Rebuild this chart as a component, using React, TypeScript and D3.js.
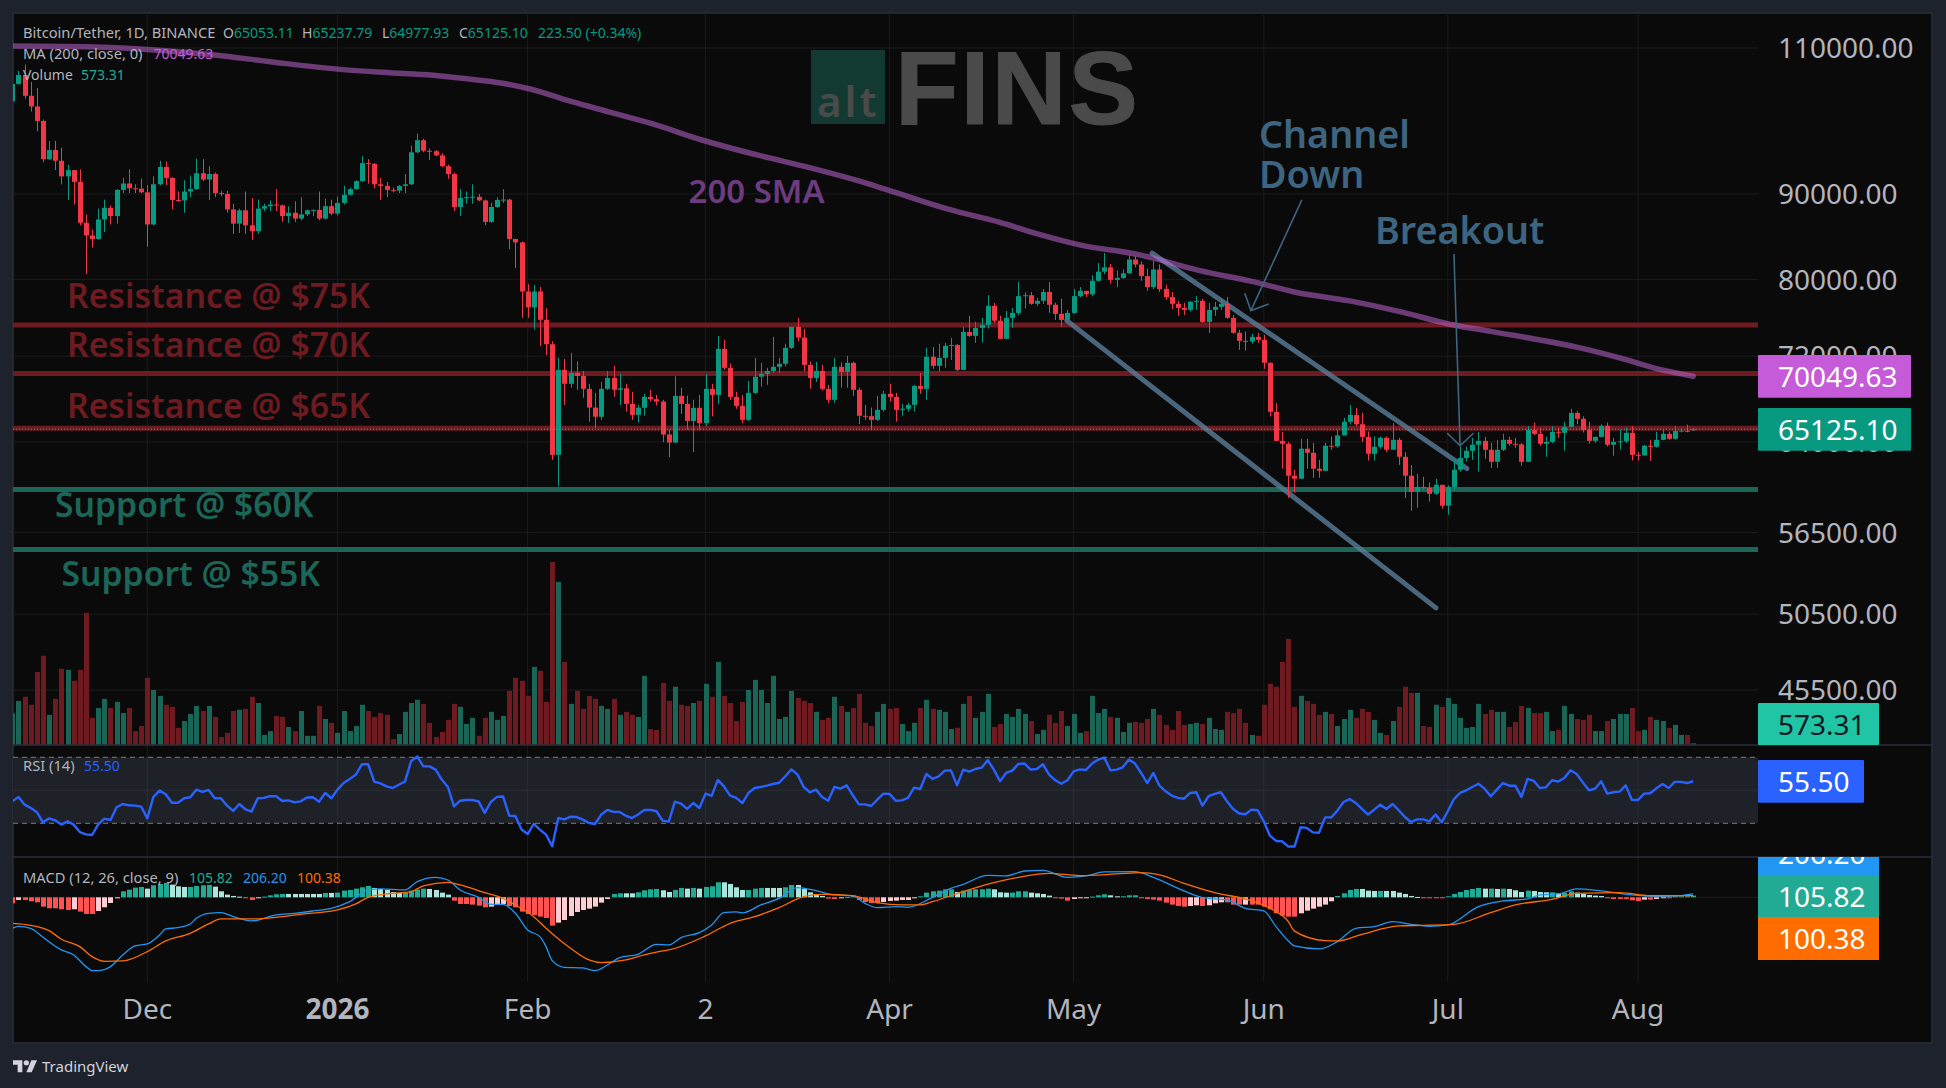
import React from "react";
import * as d3 from "d3";

const firstDay = Date.UTC(2025, 10, 9);
const lastDay = Date.UTC(2026, 7, 10);
const DAY = 86400000;

const firstOpen = 102200;
const lastOpen = 65053.11;

const closes = [
104700,106000,103000,101500,99500,94400,95600,94200,92200,93000,
91500,86500,85000,84600,86900,88300,87300,90500,91300,90700,
90650,90200,86300,91200,93400,92000,89260,89200,90300,90600,
92600,91800,92500,90100,90000,88100,86400,88000,86200,85500,
88200,88500,88700,88600,87300,87700,87000,87500,88000,88050,
87000,88500,87600,88900,89900,90600,91600,93900,93800,91200,
91000,90500,90400,91000,91200,95300,96900,95500,95450,94900,
93500,92500,88400,89500,89600,89650,89200,86600,88400,89260,
89300,84600,84200,78700,77000,78700,75700,73200,62870,70660,
69320,70370,70070,68840,67090,66250,68840,69880,68750,68890,
67430,66420,67070,68080,67870,67650,64650,63940,68180,67430,
65870,67070,65670,68840,68270,72730,70860,68080,67250,65970,
68460,70000,70270,70560,70960,71250,72830,74970,73870,71150,
69880,70560,68840,67810,70960,70460,71350,68750,66340,66300,
65970,66880,68370,68080,66880,66980,67340,69120,68840,71940,
71050,71840,73040,73130,70660,74450,74040,74860,75170,77170,
75600,73740,75900,76420,78200,78300,77380,77700,78650,77280,
76320,75690,76420,78200,78770,78400,79870,80880,81360,79970,
80180,80690,82240,81680,80380,79180,81120,78970,78100,77380,
76950,76740,77590,77700,75480,76740,77060,77380,75900,74360,
73540,73480,73940,73640,71350,66700,64090,63830,61090,60840,
63400,63050,61680,61500,63660,63600,64570,65790,66420,65570,
64440,62960,63570,64360,63310,64180,62700,61090,59750,60160,
60080,59590,60330,58620,60160,61590,62600,63220,63750,64090,
63310,62270,63310,64180,63830,63780,62270,65070,64710,63830,
64000,64890,64800,65340,66600,66060,65070,64090,64440,65430,
63750,64000,64050,64800,62870,62820,63660,63570,64180,64710,
64270,64980,65000,64900,65125.1,
];

const highs = [
104700,106600,107500,105000,104100,99700,96800,96800,95900,93700,
93000,93100,87500,85700,88200,89300,88600,90600,92000,93100,
91200,91900,91100,92200,94200,94100,92100,90300,91700,92300,
94500,94400,93500,92700,90400,90400,88800,88200,90300,89500,
89300,88800,89200,90600,88700,88500,89100,89600,88100,88100,
90300,89400,89300,89700,91000,90800,91700,94800,94400,93900,
92000,91500,90800,91100,92500,96200,97800,97100,95800,95600,
95200,93700,92700,90600,90300,91200,90000,89300,88900,89600,
90600,89400,84600,84300,79500,79400,79200,76900,73500,71850,
71750,72340,71500,70560,69320,68460,69500,70560,71050,70260,
69320,68560,67340,68370,68750,68270,67810,65070,70050,68950,
68200,67810,68270,70260,69320,74040,73640,71300,68560,68270,
69600,71840,71350,70860,73940,71840,73240,74970,75900,74760,
71480,71440,71150,69220,71840,71400,72040,71480,68950,67340,
67100,68190,68650,69320,68460,67430,67550,69220,70370,72830,
72930,73240,73340,73840,73200,74970,76110,75500,75900,78300,
77490,76110,76630,76950,79730,78600,78650,78000,78970,79730,
77500,77920,76740,78970,79180,78770,80470,81840,82980,81740,
81020,81120,82740,82640,82040,81220,82100,81700,79450,78650,
77700,77490,77700,78200,77920,77480,77600,78000,78100,76210,
74660,74490,74250,74340,74140,71400,67510,64890,64000,61590,
64270,64270,63920,62440,63920,64480,65070,66150,67340,67070,
66620,64920,64480,64480,64480,65670,64360,63100,62000,61250,
61000,60540,60840,60330,60300,62440,63600,63600,64360,64890,
64470,63920,64180,64710,64470,64360,63900,65400,65730,65250,
64470,65400,65250,65800,66980,66800,66290,65800,64480,65570,
65730,64360,65070,65250,65400,63100,63750,64180,64900,65070,
64920,65400,65250,65540,65237.79,
];

const lows = [
102200,104600,102600,100800,98100,94000,94300,93000,91200,89260,
88700,86200,80600,83600,84500,85400,86300,86400,90100,90100,
90100,90100,83700,86200,91100,91100,88100,89000,87700,89600,
90500,91600,89260,89600,89700,87700,85200,85300,85200,84500,
85200,87900,87900,87900,86600,86500,86600,86800,87300,87300,
86800,86900,87400,87400,88700,89800,90500,91500,91300,90700,
89260,89600,90200,90100,90100,91100,95200,95300,94300,94800,
93400,91900,87900,87300,88800,88800,89100,86200,86500,88300,
88900,83400,81300,75900,75900,74700,73000,72100,62440,60200,
67340,68960,68750,68000,65800,65250,65970,68750,68100,67340,
66720,65970,65730,66340,67650,67280,63970,62670,63900,66510,
65070,63100,65070,65400,66290,67430,70660,67810,66980,65670,
65870,68360,69050,69220,70370,70370,71000,72730,73500,70560,
68840,69520,68680,67510,67550,68960,68950,68190,65570,65970,
65070,65870,66720,67650,65800,66340,66720,66720,68370,67810,
70760,70500,70860,71640,70560,70660,73940,73340,73370,74810,
75370,73740,73740,74870,76210,76900,77280,77170,77380,76420,
75690,74970,75500,76320,78100,78130,78200,79770,80610,79570,
79180,80070,80590,81360,79870,78770,78970,78650,77800,76840,
76110,76210,76560,76740,75370,74340,76110,76740,75800,74250,
72630,72560,73240,73340,70760,66290,64090,61690,59260,59680,
60800,61690,60920,60920,61500,63310,63480,64570,65570,65400,
64000,62380,62380,63400,63100,63310,62000,59260,58220,58460,
59950,58960,59510,58380,57900,59870,61430,62300,62440,61430,
62530,61760,61760,63200,63660,63480,61930,62270,64600,63660,
62700,63900,64360,63230,65300,65570,64830,63830,63920,64400,
63600,62790,63310,63900,62380,62380,62800,62350,63500,64150,
64200,64180,64850,64850,64977.93,
];

const volumes = [
10.7,14.9,16.3,13.6,24.7,30.2,10.2,15.6,25.8,25.4,
21.7,25.4,44.7,9.2,12.5,15.6,12.5,14.6,10.8,12.5,
4.7,6.4,22.7,18.6,16.6,13.6,12.9,5.8,8.1,10.5,
13.2,11.5,13.2,9.5,2.7,4.1,11.5,11.9,12.2,16.3,
14.2,3.4,4.7,9.8,9.5,6.1,4.7,11.5,3.1,3.1,
13.2,8.8,7.5,4.1,11.5,4.7,6.4,13.6,11.5,9.5,
10.8,10.2,2.0,3.7,11.2,14.2,15.3,13.9,7.5,2.7,
4.4,8.5,13.9,12.9,7.1,9.2,3.1,9.2,11.2,8.5,
9.8,18.3,22.7,21.7,16.6,26.4,25.1,14.6,61.9,55.1,
28.1,13.9,18.3,12.2,16.6,15.6,13.2,12.2,15.6,10.2,
11.2,10.2,9.5,23.4,5.4,5.1,21.0,14.9,19.7,13.6,
13.2,14.2,14.9,20.7,16.3,28.1,16.6,14.2,8.1,14.6,
18.6,22.0,18.6,14.2,23.4,8.8,9.5,18.3,15.9,14.9,
14.2,11.2,8.5,9.2,16.3,13.2,11.2,12.5,17.3,7.5,
6.4,11.2,13.9,12.2,12.5,7.1,4.7,7.5,12.5,15.3,
12.2,11.9,11.2,5.4,5.8,13.9,16.6,9.2,11.2,17.3,
6.1,7.1,10.5,9.5,12.2,10.5,8.1,3.7,5.1,10.2,
7.5,11.5,6.4,10.5,4.1,4.7,16.6,10.8,12.2,9.5,
9.2,4.4,7.5,7.8,7.5,8.8,12.2,10.2,6.8,5.1,
11.5,6.8,7.1,7.5,7.1,9.2,5.4,5.1,11.2,10.8,
12.2,7.5,3.4,3.1,13.6,20.7,19.7,28.1,35.9,12.9,
16.6,14.9,13.9,10.2,11.2,10.5,6.4,8.8,11.9,9.2,
12.2,11.2,8.5,4.1,3.4,8.1,12.9,19.7,17.6,17.6,
6.4,6.1,13.6,12.9,15.9,13.9,9.2,5.8,6.1,13.9,
10.5,11.9,11.2,11.2,6.1,7.8,13.2,12.5,10.8,10.8,
11.2,4.7,5.1,13.2,10.5,8.8,8.5,10.2,4.7,4.7,
8.1,8.8,10.5,10.5,12.5,4.7,5.1,9.5,8.5,8.1,
5.8,6.8,3.4,3.4,0.573,
];

const rsi = [
43.3,46.0,41.3,39.3,36.7,30.6,33.0,31.8,29.2,31.2,
29.2,24.7,23.3,22.9,29.4,32.8,32.0,39.7,41.7,40.9,
40.7,40.1,33.0,46.0,49.8,47.6,42.5,42.5,45.2,45.8,
50.4,49.0,50.2,45.2,45.2,40.7,37.5,41.7,38.5,37.1,
45.2,45.4,46.4,46.4,43.5,43.9,42.7,43.3,45.6,45.8,
43.1,48.4,45.2,50.4,54.4,56.9,59.5,65.8,65.8,55.3,
54.2,52.4,51.4,53.4,55.3,67.6,70.6,64.5,64.5,62.5,
56.5,52.0,40.3,43.7,44.1,44.1,43.3,36.3,42.9,46.0,
46.2,34.6,34.4,26.2,23.5,29.6,26.2,23.1,16.1,33.2,
32.4,34.0,33.8,32.2,30.2,29.6,35.3,38.1,36.9,36.9,
34.6,33.2,35.3,38.1,38.1,37.3,31.6,31.0,43.1,41.9,
38.7,42.3,39.3,48.0,46.6,56.3,52.4,46.8,45.4,42.3,
48.4,51.4,52.0,52.8,53.8,54.6,58.5,62.7,59.5,52.0,
48.8,50.4,46.0,43.7,52.0,51.0,53.0,47.0,41.5,41.5,
40.5,44.3,48.0,47.8,43.7,43.9,45.4,51.6,50.8,59.9,
56.9,58.5,61.9,62.1,53.0,62.5,61.3,62.9,63.7,68.2,
62.5,55.5,60.5,61.9,66.0,66.2,62.5,62.9,65.8,59.5,
56.1,54.0,56.1,61.5,62.7,62.3,66.2,68.6,69.8,62.1,
62.5,63.9,68.6,66.2,60.5,54.4,60.5,52.8,49.4,46.8,
45.4,44.9,48.4,48.8,40.7,46.4,47.8,48.8,43.3,38.7,
35.9,35.5,38.3,37.9,31.2,22.5,19.3,19.1,15.9,15.9,
27.6,27.2,24.5,24.3,33.6,33.6,37.7,42.9,44.7,42.3,
38.7,35.3,38.3,41.3,38.7,41.7,37.9,33.8,30.8,32.4,
32.4,31.2,35.3,30.6,37.3,44.7,48.4,50.0,52.0,54.0,
51.0,46.4,50.4,54.4,52.8,52.8,46.0,56.9,55.7,51.4,
51.8,56.1,55.3,57.5,62.1,59.9,54.8,50.0,51.0,55.5,
48.0,48.8,49.2,53.0,44.3,44.1,48.0,48.2,51.2,53.8,
51.4,55.1,55.1,54.4,55.5,
];

const hist = [
-373,-166,-166,-248,-311,-580,-683,-684,-745,-787,
-745,-890,-1035,-1036,-849,-621,-352,-41,373,476,
600,642,538,745,828,890,787,683,642,643,
704,745,766,662,373,166,83,41,-41,-166,
-21,41,124,186,207,207,207,207,207,207,
207,269,269,290,414,455,538,621,704,580,
518,455,331,269,270,414,476,538,518,455,
290,166,-207,-414,-415,-455,-518,-621,-580,-455,
-414,-538,-621,-890,-1035,-1097,-1201,-1283,-1760,-1573,
-1408,-1159,-911,-787,-704,-580,-331,-104,207,248,
248,248,311,435,497,518,435,331,455,580,
538,580,538,642,683,932,931,828,621,455,
456,538,580,580,580,580,621,766,765,518,
311,207,83,-83,-104,-21,21,104,-166,-290,
-352,-373,-290,-228,-207,-166,-165,-62,62,290,
373,414,497,498,331,414,455,497,498,538,
497,311,290,291,373,374,290,248,207,104,
-21,-83,-207,-104,-62,-61,41,124,186,124,
62,63,124,125,-21,-104,-145,-207,-331,-455,
-538,-580,-538,-497,-538,-497,-373,-311,-312,-455,
-456,-455,-455,-456,-580,-745,-994,-1139,-1201,-1202,
-994,-828,-704,-580,-455,-248,83,248,455,518,
517,414,393,394,393,393,290,207,83,21,
-21,-21,-21,-21,62,207,331,455,518,580,
538,539,518,538,518,435,331,414,393,331,
311,312,248,290,373,290,207,145,104,83,
-41,-104,-104,-104,-186,-228,-145,-145,-104,-21,
-41,62,63,64,105.82,
];

const macdDays = [0,1,3,5,8,10,12,13,14,16,18,20,22,24,25,27,29,30,32,34,36,39,43,46,49,52,55,58,60,64,66,69,71,73,76,78,80,82,84,86,87,88,90,93,95,97,99,102,105,107,109,112,114,116,118,119,122,125,128,131,134,137,139,141,144,146,150,153,155,159,162,165,168,172,175,178,183,186,191,194,198,201,204,206,208,209,213,216,219,222,225,228,231,234,239,243,247,249,252,255,259,264,268,272,274];
const macdValues = [-1925,-1800,-1925,-2484,-3270,-3581,-4305,-4554,-4554,-4305,-3581,-3022,-2898,-2339,-1967,-1884,-1656,-1304,-994,-952,-1201,-1470,-1097,-994,-849,-683,-269,455,518,455,973,1242,1076,455,0,-435,-435,-994,-2029,-2443,-3064,-3933,-4347,-4388,-4554,-4202,-3747,-3540,-2919,-2960,-2505,-2194,-1718,-952,-911,-973,-476,-62,600,414,145,83,-373,-642,-580,-621,0,559,807,1366,1325,1635,1677,1242,1325,1573,1594,1242,393,-21,-166,-683,-849,-1822,-2712,-3022,-3209,-2753,-1925,-1822,-1511,-1677,-1801,-1718,-580,-228,-104,145,207,518,393,145,41,104,206.2];

const signalDays = [0,3,6,8,11,13,15,18,22,25,29,32,34,39,43,47,53,56,58,61,65,67,71,73,77,80,82,85,87,91,94,96,100,103,106,107,113,117,121,125,129,132,137,141,145,148,150,155,160,164,169,174,180,184,187,191,196,202,205,208,209,214,216,220,226,230,235,241,245,251,255,262,267,271,274];
const signalValues = [-1615,-1739,-2070,-2608,-3064,-3685,-3974,-3954,-3374,-2712,-2236,-1656,-1346,-1346,-1242,-1056,-787,-414,0,207,352,704,932,766,290,-62,-476,-1201,-1925,-3167,-3892,-4057,-3892,-3581,-3333,-3271,-2401,-1615,-1201,-642,41,186,104,-331,-476,-476,-269,352,911,1242,1490,1346,1449,1532,1387,869,290,-207,-683,-1511,-2100,-2691,-2712,-2298,-1780,-1739,-1677,-952,-476,-124,248,290,104,104,100.38];

const smaDays = [0,12,25,33,42,53,63.2,69.4,75.7,80.6,84.4,91.2,97.5,104.4,112.4,121.9,129.3,139.3,144.3,152.4,161,166.4,174,183.8,193.6,202.2,208.8,218,226.2,234.3,241.2,255,262,268.9,274];
const smaValues = [110300,110200,109600,108950,107950,106850,106240,105890,105270,104690,103970,102170,100690,99090,96930,94860,93450,91330,90090,88160,86550,85340,83910,82760,80990,79780,78680,77690,76560,75240,74480,72900,71840,70660,70049.63];

const resistanceLevels = [75150, 70320, 65200];
const supportLevels = [59950, 55200];
const priceTicks = [110000, 90000, 80000, 72000, 64000, 56500, 50500, 45500];

const timeTicks = [
  { date: Date.UTC(2025, 11, 1), label: "Dec", bold: false },
  { date: Date.UTC(2026, 0, 1), label: "2026", bold: true },
  { date: Date.UTC(2026, 1, 1), label: "Feb", bold: false },
  { date: Date.UTC(2026, 2, 2), label: "2", bold: false },
  { date: Date.UTC(2026, 3, 1), label: "Apr", bold: false },
  { date: Date.UTC(2026, 4, 1), label: "May", bold: false },
  { date: Date.UTC(2026, 5, 1), label: "Jun", bold: false },
  { date: Date.UTC(2026, 6, 1), label: "Jul", bold: false },
  { date: Date.UTC(2026, 7, 1), label: "Aug", bold: false },
];

// drawn lines as [day index, price]
const channelUpper = [[185.8, 82960], [237.1, 61700]];
const channelLower = [[171.9, 75610], [232.07, 50940]];
const channelArrow = [[210.2, 89260], [201.9, 76660]];
const channelHead = [[200.9, 78520], [201.9, 76660], [204.8, 77370]];
const breakoutArrow = [[235.0, 82870], [236.0, 63660]];
const breakoutHead = [[233.9, 64770], [236.0, 63660], [238.2, 64770]];

const FONT = "'Noto Sans', sans-serif";
const UP = "#089981";
const DOWN = "#f23645";
const GRID = "#1b1c1f";
const RES = "#6d1a20";
const SUP = "#1b6657";
const NOTE = "#3d6480";
const AXIS = "#b2b5be";

const L = 13, R = 1758, RIGHT = 1932, T = 13, B = 1043, P1 = 745, P2 = 857, P3 = 982;

const x = d3.scaleUtc().domain([new Date(firstDay), new Date(lastDay)]).range([12.34, 1693.2]);
const xi = (i: number) => x(new Date(firstDay + i * DAY));
const yP = d3.scaleLog().domain([110000, 45500]).range([48, 690]);
const yV = d3.scaleLinear().domain([0, 62]).range([745, 561.6]);
const yR = d3.scaleLinear().domain([70, 30]).range([757.3, 823.3]);
const yM = d3.scaleLinear().domain([0, 1000]).range([897.3, 881.2]);

const opens = closes.map((_, i) => (i === 0 ? firstOpen : i === closes.length - 1 ? lastOpen : closes[i - 1]));

const priceLine = d3.line<number[]>().x((d) => xi(d[0])).y((d) => yP(d[1]));
const smaPath = d3.line<number>().x((_, i) => xi(smaDays[i])).y((d) => yP(d)).curve(d3.curveMonotoneX)(smaValues)!;
const rsiPath = d3.line<number>().x((_, i) => xi(i)).y((d) => yR(d))(rsi)!;
const macdPath = d3.line<number>().x((_, i) => xi(macdDays[i])).y((d) => yM(d)).curve(d3.curveMonotoneX)(macdValues)!;
const signalPath = d3.line<number>().x((_, i) => xi(signalDays[i])).y((d) => yM(d)).curve(d3.curveMonotoneX)(signalValues)!;

function histColor(i: number) {
  const v = hist[i];
  const prev = i > 0 ? hist[i - 1] : v;
  if (v >= 0) return prev < v ? "#22ab94" : "#ace5dc";
  return prev < v ? "#ffcdd2" : "#ff5252";
}

const T1 = (p: any) => <text fontFamily={FONT} fontSize={14} fill={AXIS} {...p} />;
const T2 = (p: any) => <text fontFamily={FONT} fontSize={14.7} fill={AXIS} {...p} />;

export default function App() {
  return (
    <svg width={1946} height={1088} style={{ position: "fixed", left: 0, top: 0, display: "block" }}>
      <defs>
        <clipPath id="mainClip"><rect x={L} y={T} width={R - L} height={P1 - T} /></clipPath>
        <clipPath id="lowClip"><rect x={L} y={P1} width={R - L} height={P3 - P1} /></clipPath>
        <clipPath id="macdLabel"><rect x={R} y={P2} width={RIGHT - R} height={P3 - P2} /></clipPath>
      </defs>
      <rect width={1946} height={1088} fill="#1e222d" />
      <rect x={L} y={T} width={RIGHT - L} height={B - T} fill="#0a0a0a" stroke="#2a2e39" strokeWidth={1.5} />

      {/* grid */}
      {timeTicks.map((t) => (
        <line key={t.label} x1={x(new Date(t.date))} x2={x(new Date(t.date))} y1={T} y2={P3} stroke={GRID} strokeWidth={1} />
      ))}
      {priceTicks.map((p) => (
        <line key={p} x1={L} x2={R} y1={yP(p)} y2={yP(p)} stroke={GRID} strokeWidth={1} />
      ))}

      {/* watermark */}
      <rect x={811} y={50} width={74} height={74} fill="#123a33" />
      <text x={817} y={116.5} fontFamily={FONT} fontWeight={600} fontSize={42} letterSpacing={3} fill="#4a4a4a">alt</text>
      <text x={895} y={124} fontFamily="'Liberation Sans', sans-serif" fontWeight={700} fontSize={104} letterSpacing={2} stroke="#4a4a4a" strokeWidth={1} fill="#4a4a4a">FINS</text>

      <g clipPath="url(#mainClip)">
        {resistanceLevels.map((p) => (
          <line key={p} x1={L} x2={R} y1={yP(p)} y2={yP(p)} stroke={RES} strokeWidth={5} />
        ))}
        {supportLevels.map((p) => (
          <line key={p} x1={L} x2={R} y1={yP(p)} y2={yP(p)} stroke={SUP} strokeWidth={5} />
        ))}

        {/* volume */}
        {volumes.map((v, i) => {
          const up = closes[i] >= opens[i];
          return (
            <rect key={i} x={Math.round(xi(i)) - 2} y={yV(v)} width={5} height={745 - yV(v)} fill={up ? "#1a6656" : "#6d1a20"} />
          );
        })}

        <path d={priceLine(channelUpper)!} stroke="#5a7d98" strokeOpacity={0.8} strokeWidth={5} strokeLinecap="round" fill="none" />
        <path d={priceLine(channelLower)!} stroke="#5a7d98" strokeOpacity={0.8} strokeWidth={5} strokeLinecap="round" fill="none" />
        <path d={smaPath} stroke="#c96be0" strokeOpacity={0.5} strokeWidth={5.5} strokeLinecap="round" fill="none" />

        {/* candles */}
        {closes.map((c, i) => {
          const o = opens[i];
          const up = c >= o;
          const col = up ? UP : DOWN;
          const cx = Math.round(xi(i));
          const top = yP(Math.max(o, c));
          const h = Math.max(1, yP(Math.min(o, c)) - top);
          return (
            <g key={i}>
              <rect x={cx} y={yP(highs[i])} width={1} height={yP(lows[i]) - yP(highs[i])} fill={col} />
              <rect x={cx - 2} y={top} width={5} height={h} fill={col} />
            </g>
          );
        })}

        <line x1={L} x2={R} y1={yP(65125.1)} y2={yP(65125.1)} stroke="#3fae9c" strokeWidth={1} strokeDasharray="1 2" />

        <path d={priceLine(channelArrow)!} stroke={NOTE} strokeWidth={1.6} fill="none" />
        <path d={priceLine(channelHead)!} stroke={NOTE} strokeWidth={1.6} fill="none" />
        <path d={priceLine(breakoutArrow)!} stroke={NOTE} strokeWidth={1.6} fill="none" />
        <path d={priceLine(breakoutHead)!} stroke={NOTE} strokeWidth={1.6} fill="none" />
      </g>

      {/* annotations */}
      <g fontFamily={FONT} fontWeight={600} fontSize={33.7}>
        <text x={67} y={308.3} fill={RES}>Resistance @ $75K</text>
        <text x={67} y={357.2} fill={RES}>Resistance @ $70K</text>
        <text x={67} y={418.2} fill={RES}>Resistance @ $65K</text>
        <text x={55} y={517.2} fill={SUP}>Support @ $60K</text>
        <text x={61.5} y={586.2} fill={SUP}>Support @ $55K</text>
        <text x={688.5} y={202.5} fill="#6c3b80" fontSize={33}>200 SMA</text>
      </g>
      <g fontFamily={FONT} fontWeight={600} fontSize={37.7} fill={NOTE}>
        <text x={1259} y={147.7}>Channel</text>
        <text x={1259} y={187.7}>Down</text>
        <text x={1375} y={244.3}>Breakout</text>
      </g>

      {/* RSI pane */}
      <rect x={L} y={yR(70)} width={R - L} height={yR(30) - yR(70)} fill="#1e2127" />
      {timeTicks.map((t) => (
        <line key={t.label} x1={x(new Date(t.date))} x2={x(new Date(t.date))} y1={yR(70)} y2={yR(30)} stroke="#2a2d33" strokeWidth={1} />
      ))}
      <line x1={L} x2={R} y1={yR(50)} y2={yR(50)} stroke="#2a2d33" strokeWidth={1} />
      {[70, 30].map((v) => (
        <line key={v} x1={L} x2={R} y1={yR(v)} y2={yR(v)} stroke="#787b86" strokeWidth={1} strokeDasharray="5 4" />
      ))}

      {/* MACD zero */}
      <line x1={L} x2={R} y1={yM(0)} y2={yM(0)} stroke={GRID} strokeWidth={1} />

      <g clipPath="url(#lowClip)">
        <path d={rsiPath} stroke="#2962ff" strokeWidth={2.4} fill="none" strokeLinejoin="round" />
        {hist.map((v, i) => {
          const y0 = yM(0);
          const y1 = yM(v);
          return (
            <rect key={i} x={Math.round(xi(i)) - 2} y={Math.min(y0, y1)} width={5} height={Math.max(1, Math.abs(y1 - y0))} fill={histColor(i)} />
          );
        })}
        <path d={macdPath} stroke="#2196f3" strokeWidth={1.3} fill="none" />
        <path d={signalPath} stroke="#ff6d00" strokeWidth={1.3} fill="none" />
      </g>

      {/* pane separators */}
      <line x1={L} x2={RIGHT} y1={P1} y2={P1} stroke="#2a2e39" strokeWidth={1.5} />
      <line x1={L} x2={RIGHT} y1={P2} y2={P2} stroke="#2a2e39" strokeWidth={1.5} />

      {/* price axis labels */}
      <g fontFamily={FONT} fontSize={28} fill={AXIS}>
        {priceTicks.map((p) => (
          <text key={p} x={1778} y={yP(p) + 10}>{p.toFixed(2)}</text>
        ))}
      </g>

      {/* last value boxes */}
      <g fontFamily={FONT} fontSize={28} fill="#ffffff">
        <rect x={R} y={355} width={153} height={42.7} fill="#c55bd8" rx={1} />
        <text x={1778} y={386.5}>70049.63</text>
        <rect x={R} y={408} width={153} height={42.7} fill={UP} rx={1} />
        <text x={1778} y={439.5}>65125.10</text>
        <rect x={R} y={703} width={121} height={42} fill="#1fc5a5" rx={1} />
        <text x={1778} y={734.5} fill="#131722">573.31</text>
        <rect x={R} y={760} width={106} height={42.7} fill="#2962ff" rx={1} />
        <text x={1778} y={791.5}>55.50</text>
        <g clipPath="url(#macdLabel)">
          <rect x={R} y={832} width={121} height={43} fill="#2196f3" />
          <text x={1778} y={863.5}>206.20</text>
        </g>
        <rect x={R} y={875} width={121} height={42} fill="#22ab94" />
        <text x={1778} y={906.5}>105.82</text>
        <rect x={R} y={917} width={121} height={43} fill="#ff6d00" />
        <text x={1778} y={948.5}>100.38</text>
      </g>

      {/* time axis */}
      <g fontFamily={FONT} fontSize={28} fill={AXIS} textAnchor="middle">
        {timeTicks.map((t) => (
          <text key={t.label} x={x(new Date(t.date))} y={1019} fontWeight={t.bold ? 700 : 400}>{t.label}</text>
        ))}
      </g>

      {/* legends */}
      <T2 x={23} y={38}>Bitcoin/Tether, 1D, BINANCE</T2>
      <T1 x={223} y={38}>O<tspan fill={UP}>65053.11</tspan></T1>
      <T1 x={302} y={38}>H<tspan fill={UP}>65237.79</tspan></T1>
      <T1 x={382} y={38}>L<tspan fill={UP}>64977.93</tspan></T1>
      <T1 x={459} y={38}>C<tspan fill={UP}>65125.10</tspan></T1>
      <T1 x={538} y={38} fill={UP}>223.50 (+0.34%)</T1>
      <T2 x={23} y={59}>MA (200, close, 0)</T2>
      <T1 x={153.5} y={59} fill="#c55bd8">70049.63</T1>
      <T1 x={23} y={80}>Volume</T1>
      <T1 x={81} y={80} fill="#22ab94">573.31</T1>
      <T2 x={23} y={771}>RSI (14)</T2>
      <T1 x={84} y={771} fill="#2962ff">55.50</T1>
      <T2 x={23} y={883}>MACD (12, 26, close, 9)</T2>
      <T1 x={189} y={883} fill="#22ab94">105.82</T1>
      <T1 x={243} y={883} fill="#2196f3">206.20</T1>
      <T1 x={297} y={883} fill="#ff6d00">100.38</T1>

      {/* footer */}
      <g transform="translate(13,1055.5) scale(0.667)" fill="#d1d4dc">
        <path d="M14 25H7V14H0V7h14v18zM28 25h-8l7.5-18H36l-8 18z" />
        <circle cx={20} cy={11} r={4} />
      </g>
      <text x={42} y={1072} fontFamily={FONT} fontWeight={400} fontSize={15} fill="#d1d4dc">TradingView</text>
    </svg>
  );
}
